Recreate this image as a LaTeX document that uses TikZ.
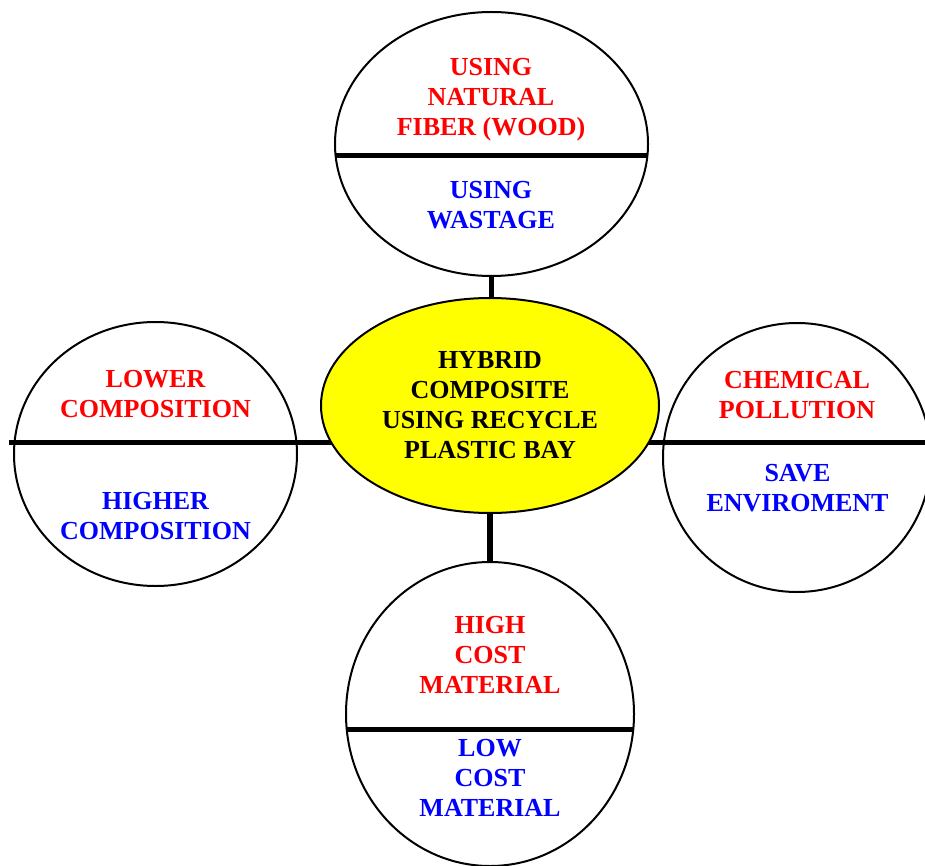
\documentclass[tikz,border=0pt]{standalone}
\usepackage{fontspec}
\setmainfont{Liberation Serif}
\usetikzlibrary{shapes.geometric,backgrounds}
\definecolor{bubRed}{HTML}{FF0000}
\definecolor{bubBlue}{HTML}{0000FF}
\definecolor{hubYellow}{HTML}{FFFF00}
\tikzset{
  bubble/.style={draw,ellipse,line width=2pt,inner sep=0pt},
  hubnode/.style={bubble,fill=hubYellow},
  txt/.style={align=center,inner sep=0pt,font=\fontsize{26}{30}\selectfont\bfseries},
  redtxt/.style={txt,text=bubRed},
  bluetxt/.style={txt,text=bubBlue},
  divider/.style={line width=5pt},
  link/.style={line width=5.5pt}
}

\begin{document}
\begin{tikzpicture}[x=1pt,y=-1pt]
\useasboundingbox (0,0) rectangle (925,866);

% centre and the four bubbles
\node[hubnode, txt, minimum width=338pt, minimum height=215pt] (hub) at (490,405.5) {HYBRID\\COMPOSITE\\USING RECYCLE\\PLASTIC BAY};
\node[bubble, minimum width=313pt, minimum height=264pt] (fiber) at (491.5,144) {};
\node[bubble, minimum width=283pt, minimum height=264pt] (comp) at (155.5,454) {};
\node[bubble, minimum width=268pt, minimum height=269pt] (env) at (797,457.5) {};
\node[bubble, minimum width=288pt, minimum height=304pt] (cost) at (490,714) {};

% texts
\node[redtxt] (fiberup) at (491,99.5) {USING\\NATURAL\\FIBER (WOOD)};
\node[bluetxt] (fiberdn) at (491,205.5) {USING\\WASTAGE};
\node[redtxt] (compup) at (155.5,394) {LOWER\\COMPOSITION};
\node[bluetxt] (compdn) at (155.5,516) {HIGHER\\COMPOSITION};
\node[redtxt] (envup) at (797,395.5) {CHEMICAL\\POLLUTION};
\node[bluetxt] (envdn) at (797.5,488) {SAVE\\ENVIROMENT};
\node[redtxt] (costup) at (490,655) {HIGH\\COST\\MATERIAL};
\node[bluetxt] (costdn) at (490,778) {LOW\\COST\\MATERIAL};

% dividers
\draw[divider] ([shift={(-156,12)}]fiber.center) -- ([shift={(156,12)}]fiber.center);
\draw[divider] ([shift={(-143.5,15)}]cost.center) -- ([shift={(143.5,15)}]cost.center);
\coordinate (lend) at (9,442);
\coordinate (rend) at (925,442);
\begin{scope}[on background layer]
\draw[divider] (lend) -- (lend -| hub.center);
\draw[divider] (rend) -- (rend -| hub.center);
\end{scope}

% links
\draw[link] (fiber.south) -- (fiber.south |- hub.north);
\draw[link] (cost.north) -- (cost.north |- hub.south);
\end{tikzpicture}
\end{document}
